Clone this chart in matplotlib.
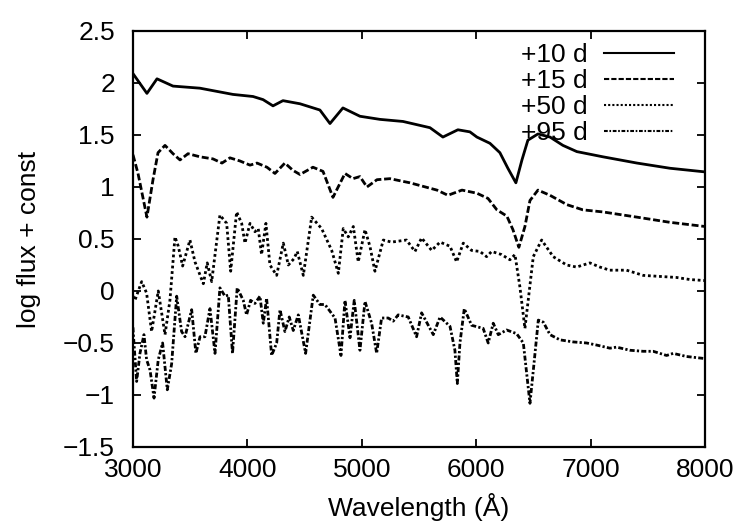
import matplotlib
matplotlib.use("Agg")
import matplotlib.pyplot as plt

plt.rcParams["font.family"] = ["Liberation Sans", "DejaVu Sans"]

# spectra: wavelength (A) and log flux + const
wl_10 = [3000, 3122, 3210, 3350, 3585, 3874, 4049, 4137, 4224, 4311, 4460, 4634,
         4722, 4835, 4984, 5159, 5360, 5596, 5709, 5840, 5945, 6006, 6120, 6207,
         6277, 6347, 6400, 6452, 6540, 6645, 6758, 6880, 7108, 7405, 7694, 8000]
fl_10 = [2.09, 1.90, 2.04, 1.97, 1.95, 1.89, 1.87, 1.84, 1.78, 1.83, 1.80, 1.74,
         1.61, 1.76, 1.68, 1.65, 1.63, 1.57, 1.48, 1.55, 1.53, 1.48, 1.42, 1.33,
         1.18, 1.04, 1.26, 1.45, 1.51, 1.48, 1.40, 1.34, 1.29, 1.23, 1.18, 1.145]

wl_15 = [3000, 3044, 3122, 3175, 3219, 3280, 3350, 3411, 3481, 3586, 3699, 3778,
         3848, 3935, 4023, 4084, 4171, 4241, 4328, 4398, 4460, 4573, 4661, 4748,
         4853, 4923, 4984, 5045, 5133, 5246, 5421, 5657, 5753, 5876, 6006, 6103,
         6181, 6268, 6321, 6373, 6426, 6470, 6540, 6645, 6793, 6933, 7108, 7405,
         7694, 8000]
fl_15 = [1.31, 1.13, 0.71, 1.07, 1.33, 1.40, 1.32, 1.26, 1.32, 1.29, 1.27, 1.23,
         1.28, 1.25, 1.21, 1.23, 1.19, 1.13, 1.23, 1.16, 1.12, 1.19, 1.15, 0.90,
         1.13, 1.08, 1.10, 1.00, 1.07, 1.08, 1.04, 0.97, 0.92, 0.97, 0.94, 0.89,
         0.78, 0.72, 0.59, 0.42, 0.62, 0.87, 0.97, 0.92, 0.83, 0.78, 0.76, 0.71,
         0.66, 0.62]

wl_50 = [3000, 3017, 3076, 3119, 3163, 3221, 3280, 3323, 3367, 3396, 3434, 3498,
         3542, 3615, 3649, 3688, 3760, 3819, 3854, 3906, 3950, 3979, 4023, 4066,
         4095, 4124, 4162, 4197, 4256, 4314, 4358, 4407, 4436, 4489, 4562, 4649,
         4737, 4795, 4838, 4882, 4926, 4969, 5028, 5071, 5115, 5188, 5260, 5391,
         5465, 5523, 5611, 5684, 5771, 5829, 5887, 5960, 6033, 6091, 6135, 6222,
         6295, 6339, 6382, 6426, 6499, 6572, 6673, 6790, 6877, 6994, 7081, 7168,
         7314, 7460, 7605, 7751, 7868, 8000]
fl_50 = [-0.05, -0.09, 0.09, -0.02, -0.39, 0.00, -0.42, -0.09, 0.52, 0.43, 0.24, 0.49,
         0.28, 0.07, 0.27, 0.09, 0.73, 0.65, 0.19, 0.76, 0.65, 0.46, 0.65, 0.57,
         0.60, 0.35, 0.65, 0.25, 0.15, 0.46, 0.25, 0.31, 0.38, 0.15, 0.71, 0.60,
         0.39, 0.17, 0.60, 0.52, 0.62, 0.28, 0.59, 0.43, 0.19, 0.49, 0.47, 0.49,
         0.38, 0.51, 0.39, 0.47, 0.43, 0.28, 0.46, 0.39, 0.38, 0.33, 0.38, 0.35,
         0.30, 0.35, 0.04, -0.36, 0.33, 0.49, 0.33, 0.25, 0.23, 0.27, 0.23, 0.20,
         0.20, 0.15, 0.14, 0.13, 0.11, 0.10]

wl_95 = [3000, 3003, 3032, 3061, 3096, 3119, 3149, 3184, 3221, 3259, 3300, 3338,
         3382, 3425, 3455, 3513, 3550, 3586, 3629, 3673, 3717, 3760, 3804, 3833,
         3870, 3911, 3964, 3993, 4028, 4066, 4110, 4139, 4168, 4212, 4256, 4285,
         4328, 4366, 4401, 4445, 4509, 4576, 4634, 4678, 4766, 4818, 4853, 4897,
         4934, 4984, 5028, 5086, 5130, 5173, 5231, 5275, 5318, 5406, 5479, 5523,
         5625, 5684, 5771, 5814, 5835, 5858, 5896, 5960, 6061, 6105, 6149, 6193,
         6266, 6353, 6412, 6470, 6505, 6543, 6587, 6645, 6732, 6849, 6965, 7053,
         7169, 7227, 7344, 7460, 7547, 7664, 7722, 7839, 8000]
fl_95 = [-0.35, -0.41, -0.87, -0.60, -0.42, -0.66, -0.76, -1.03, -0.66, -0.50, -0.95, -0.70,
         -0.05, -0.39, -0.44, -0.18, -0.60, -0.44, -0.44, -0.17, -0.60, 0.03, -0.05, -0.04,
         -0.60, 0.03, -0.09, -0.23, -0.09, -0.12, -0.05, -0.31, -0.07, -0.62, -0.50, -0.18,
         -0.39, -0.25, -0.38, -0.23, -0.60, -0.04, -0.13, -0.13, -0.26, -0.62, -0.09, -0.45,
         -0.09, -0.57, -0.10, -0.31, -0.60, -0.26, -0.26, -0.29, -0.23, -0.25, -0.44, -0.21,
         -0.42, -0.25, -0.34, -0.57, -0.89, -0.50, -0.17, -0.33, -0.36, -0.50, -0.31, -0.42,
         -0.375, -0.41, -0.50, -1.08, -0.70, -0.28, -0.30, -0.42, -0.47, -0.49, -0.50, -0.52,
         -0.55, -0.54, -0.57, -0.58, -0.58, -0.62, -0.60, -0.63, -0.65]

labels = ["+10 d", "+15 d", "+50 d", "+95 d"]
xticks = [3000, 4000, 5000, 6000, 7000, 8000]
yticks = [2.5, 2, 1.5, 1, 0.5, 0, -0.5, -1, -1.5]
ytick_labels = ["2.5", "2", "1.5", "1", "0.5", "0", "\u22120.5", "\u22121", "\u22121.5"]

fig = plt.figure(figsize=(7.5, 5.25), dpi=100)
ax = fig.add_axes([0.1773, 0.1486, 0.7627, 0.7924])

ax.plot(wl_10, fl_10, color="black", lw=2.0, ls="-", label=labels[0])
ax.plot(wl_15, fl_15, color="black", lw=2.0, ls=(0, (2.5, 1)), label=labels[1])
ax.plot(wl_50, fl_50, color="black", lw=2.0, ls=(0, (1, 1)), label=labels[2])
ax.plot(wl_95, fl_95, color="black", lw=2.0, ls=(0, (1.8, 0.8, 0.8, 0.8)), label=labels[3])

ax.set_xlim(3000, 8000)
ax.set_ylim(-1.5, 2.5)
ax.set_xticks(xticks)
ax.set_xticklabels([str(t) for t in xticks])
ax.set_yticks(yticks)
ax.set_yticklabels(ytick_labels)
ax.tick_params(direction="in", top=True, right=True, length=6, width=1.3,
               labelsize=19)
ax.tick_params(axis="x", pad=8)
ax.tick_params(axis="y", pad=13)
for s in ax.spines.values():
    s.set_linewidth(1.6)

ax.set_xlabel("Wavelength (\u00c5)", fontsize=19, labelpad=8)
ax.set_ylabel("log flux + const", fontsize=19, labelpad=16)

leg = ax.legend(loc="upper right", frameon=False, markerfirst=False, fontsize=19,
                handlelength=2.65, labelspacing=0.08, borderaxespad=0.0,
                handletextpad=0.65, bbox_to_anchor=(0.965, 0.997))
for line in leg.get_lines():
    line.set_linewidth(1.5)

fig.savefig("out.png", dpi=100)
